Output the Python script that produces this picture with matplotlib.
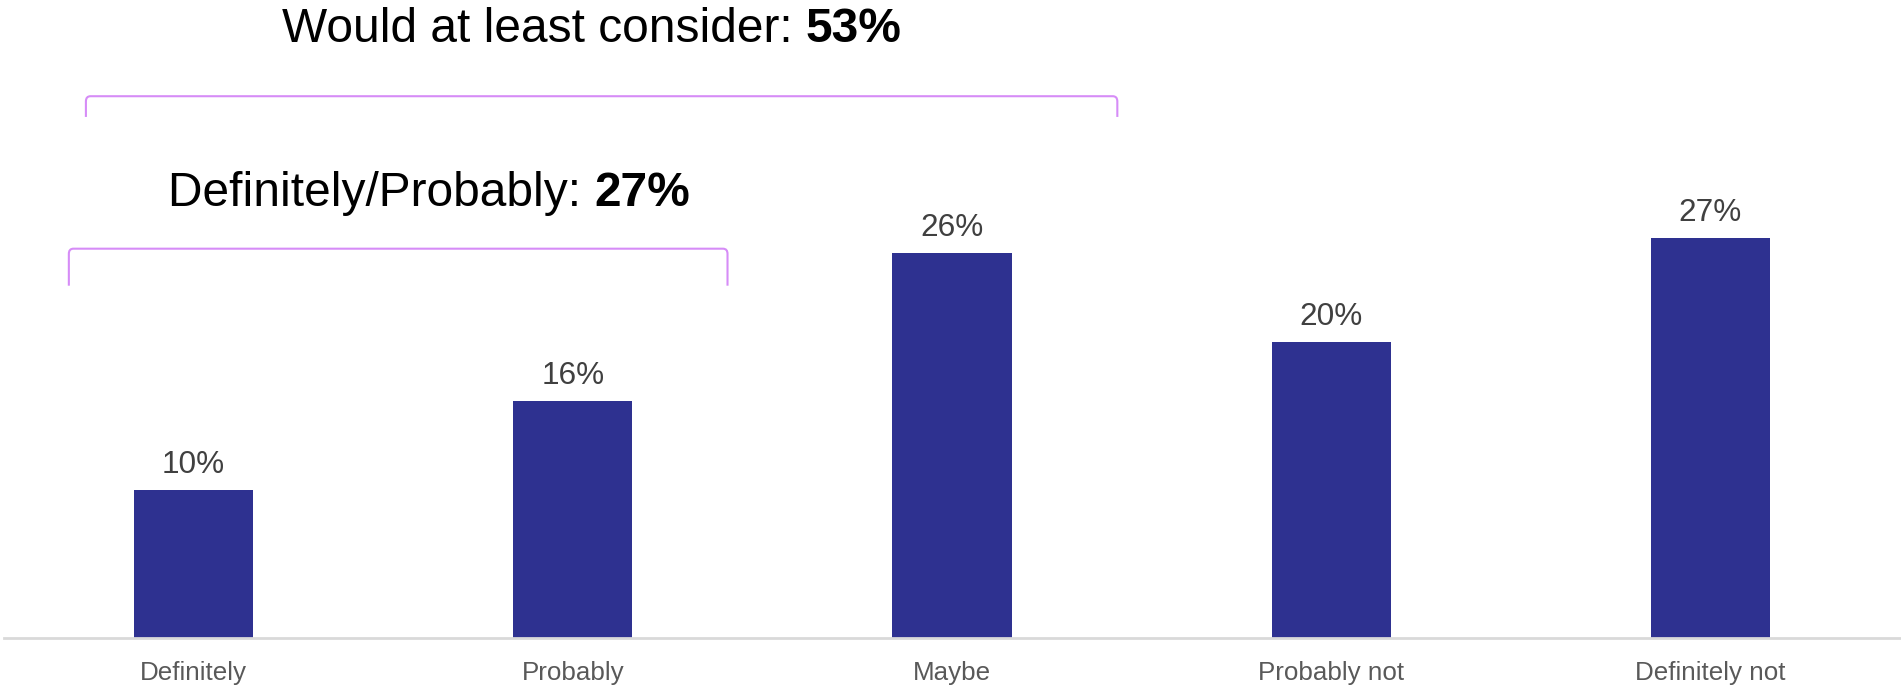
import matplotlib
matplotlib.use("Agg")
import matplotlib.pyplot as plt
from matplotlib.path import Path
from matplotlib.patches import PathPatch

plt.rcParams['font.family'] = ['Liberation Sans', 'DejaVu Sans']

categories = ["Definitely", "Probably", "Maybe", "Probably not", "Definitely not"]
values = [10, 16, 26, 20, 27]
value_labels = ["10%", "16%", "26%", "20%", "27%"]

summary_outer = ("Would at least consider: ", "53%")
summary_inner = ("Definitely/Probably: ", "27%")

BAR_COLOR = "#2E3190"
BRACKET_COLOR = "#D68CF7"

W, H = 1901, 688
fig = plt.figure(figsize=(W / 100, H / 100), dpi=100)
ax = fig.add_axes([4 / W, 50 / H, 1896 / W, 638 / H])

x = list(range(len(categories)))
bars = ax.bar(x, values, width=0.314, color=BAR_COLOR, zorder=2)

ax.set_xlim(-0.5, len(categories) - 0.5)
ax.set_ylim(0, 43.1)

for spine in ["top", "right", "left"]:
    ax.spines[spine].set_visible(False)
ax.spines["bottom"].set_color("#D9D9D9")
ax.spines["bottom"].set_linewidth(2)
ax.set_yticks([])
ax.set_xticks(x)
ax.set_xticklabels(categories, fontsize=18.7, color="#595959")
ax.tick_params(axis="x", length=0, pad=16.5)

for rect, lab in zip(bars, value_labels):
    ax.annotate(lab, xy=(rect.get_x() + rect.get_width() / 2, rect.get_height()),
                xytext=(0, 12.5), textcoords="offset points",
                ha="center", va="baseline", fontsize=22.7, color="#404040")


def bracket(x0, x1, y_top, y_bot, r_x=0.012, r_y=0.35):
    verts = [
        (x0, y_bot), (x0, y_top - r_y), (x0, y_top), (x0 + r_x, y_top),
        (x1 - r_x, y_top), (x1, y_top), (x1, y_top - r_y), (x1, y_bot),
    ]
    codes = [
        Path.MOVETO, Path.LINETO, Path.CURVE3, Path.CURVE3,
        Path.LINETO, Path.CURVE3, Path.CURVE3, Path.LINETO,
    ]
    ax.add_patch(PathPatch(Path(verts, codes), facecolor="none",
                           edgecolor=BRACKET_COLOR, linewidth=1.5,
                           clip_on=False, zorder=3))


bracket(-0.284, 2.436, 36.6, 35.2)
bracket(-0.329, 1.408, 26.3, 23.8)


def summary(xpx, base_px, parts):
    t1 = fig.text(xpx / W, 1 - base_px / H, parts[0], ha="left", va="baseline",
                  fontsize=34.5, color="black")
    fig.canvas.draw()
    ax.annotate(parts[1], xy=(1, 0), xycoords=t1, ha="left", va="bottom",
                fontsize=34.5, fontweight="bold", color="black",
                annotation_clip=False)


summary(282, 42, summary_outer)
summary(168, 206, summary_inner)

fig.savefig("out.png", dpi=100, facecolor="white")
